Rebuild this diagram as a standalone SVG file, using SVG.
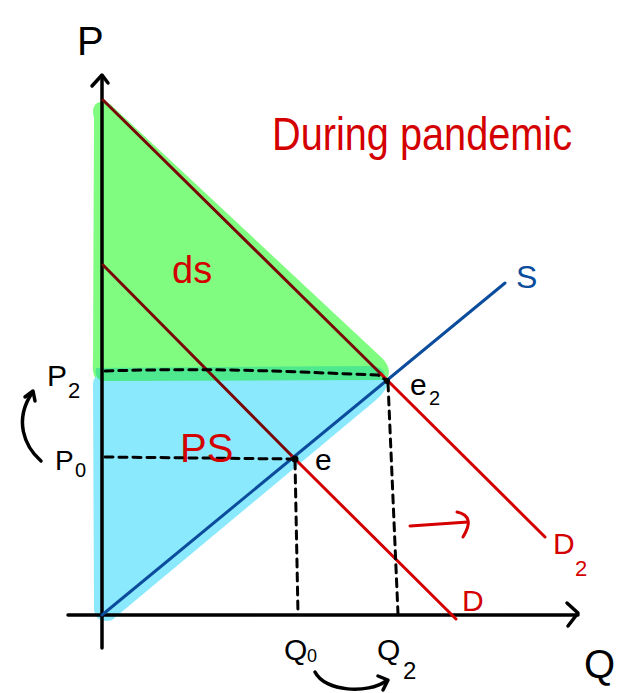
<svg xmlns="http://www.w3.org/2000/svg" width="630" height="693" viewBox="0 0 630 693">
<style>
.ax{stroke:#000;stroke-width:3.5;fill:none;stroke-linecap:round;stroke-linejoin:round}
.dash{stroke:#000;stroke-width:3;fill:none;stroke-dasharray:8 6;stroke-linecap:round}
.red{stroke:#d40000;stroke-width:3;fill:none;stroke-linecap:round}
.mar{stroke:#7a0808;stroke-width:3;fill:none;stroke-linecap:round}
.blu{stroke:#0b4d9c;stroke-width:3;fill:none;stroke-linecap:round}
text{font-family:"Liberation Sans","DejaVu Sans",sans-serif}
.k{fill:#000}
.r{fill:#d40000}
.b{fill:#0b4d9c}
</style>
<g id="areas">
<path id="cs-area" d="M94,118 C90,104 99,98 110,104 L382,358 C394,370 390,384 374,382 L104,382 C94,382 92,374 93,360 Z" fill="#80fc80"/>
<path id="ps-area" d="M93,384 Q93,375 102,375 L384,374 Q394,384 376,400 L112,620 Q96,624 94,610 Z" fill="#8be9fd"/>
<path id="overlap" d="M96,368 L372,366 Q388,368 384,380 L102,381 Q94,378 96,368 Z" fill="#4ee88e"/>
</g>
<g id="axes">
<path class="ax" d="M102,76 L102,648"/>
<path class="ax" d="M92,86 L102,75 L108,83"/>
<path class="ax" d="M68,615 L578,615"/>
<path class="ax" d="M567,603 L578,613 L568,626"/>
</g>
<g id="connectors">
<path class="mar" d="M103,100 L381,374"/>
<path class="red" d="M381,374 L545,537"/>
<path class="mar" d="M103,265 L292,456"/>
<path class="red" d="M292,456 L456,619"/>
<path class="blu" d="M102,615 L505,283"/>
<path class="dash" d="M105,371 Q200,368 300,372 L378,375 L387,381"/>
<path class="dash" d="M388,383 L398,614"/>
<path class="dash" d="M105,457 L294,459"/>
<path class="dash" d="M295,461 L298,614"/>
<circle cx="295" cy="459" r="3.5" fill="#000"/>
<circle cx="387" cy="381" r="3" fill="#000"/>
<path class="ax" d="M41,461 C24,446 14,420 32,393"/>
<path class="ax" d="M25,397 L33,391 L35,401"/>
<path class="ax" d="M315,672 C325,692 368,694 386,681"/>
<path class="ax" d="M378,676 L388,680 L383,690"/>
<path class="red" d="M410,526 L468,522"/>
<path class="red" d="M457,512 Q476,516 463,537"/>
</g>
<g id="labels">
<text class="k" x="77" y="55" font-size="40">P</text>
<text class="k" x="47" y="386" font-size="30">P</text>
<text class="k" x="68" y="398" font-size="22">2</text>
<text class="k" x="55" y="470" font-size="28">P</text>
<text class="k" x="75" y="477" font-size="20">0</text>
<text class="k" x="315" y="470" font-size="30">e</text>
<text class="k" x="410" y="395" font-size="30">e</text>
<text class="k" x="429" y="405" font-size="20">2</text>
<text class="b" x="516" y="288" font-size="32">S</text>
<text class="r" x="553" y="554" font-size="30">D</text>
<text class="r" x="575" y="576" font-size="22">2</text>
<text class="r" x="462" y="611" font-size="30">D</text>
<text class="k" x="584" y="678" font-size="40">Q</text>
<text class="k" x="284" y="660" font-size="30">Q</text>
<text class="k" x="307" y="662" font-size="18">0</text>
<text class="k" x="377" y="660" font-size="30">Q</text>
<text class="k" x="403" y="679" font-size="24">2</text>
<text class="r" x="172" y="283" font-size="38">ds</text>
<text class="r" x="180" y="462" font-size="40">PS</text>
<text class="r" x="272" y="150" font-size="46" textLength="300" lengthAdjust="spacingAndGlyphs">During pandemic</text>
</g>
</svg>
